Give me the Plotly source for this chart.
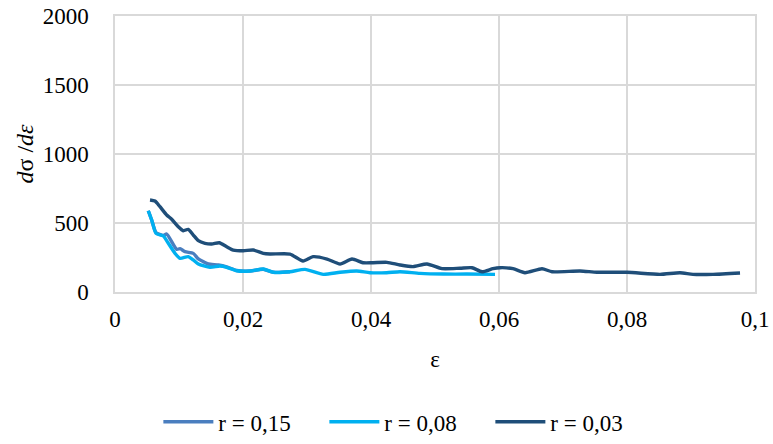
import plotly.graph_objects as go

# Strain values (ε) and tangent modulus dσ/dε for each ratio r
eps_r015 = [0.0052, 0.00573, 0.00641, 0.00755, 0.00808, 0.00964, 0.01016, 0.01094,
            0.01223, 0.01302, 0.01380, 0.01458, 0.01615, 0.01745, 0.01902, 0.02109,
            0.02317, 0.02473, 0.02734]
mod_r015 = [589, 522, 430, 410, 420, 309, 314, 292,
            280, 240, 220, 203, 196, 182, 156, 152,
            165, 143, 147]

eps_r008 = [0.0052, 0.00573, 0.00641, 0.00755, 0.00833, 0.00938, 0.01016, 0.01145,
            0.01223, 0.01302, 0.01484, 0.01641, 0.01745, 0.01902, 0.02109, 0.02317,
            0.02473, 0.02734, 0.02969, 0.03255, 0.03516, 0.03777, 0.03984, 0.04245,
            0.04453, 0.04766, 0.0513, 0.05495, 0.05938]
mod_r008 = [589, 522, 425, 406, 353, 280, 244, 256,
            232, 203, 179, 188, 179, 154, 152, 167,
            143, 147, 164, 128, 143, 152, 140, 140,
            147, 135, 130, 130, 128]

eps_r003 = [0.00547, 0.00625, 0.00703, 0.00808, 0.00886, 0.00989, 0.01067, 0.01145,
            0.01223, 0.01302, 0.01406, 0.01511, 0.0163, 0.01745, 0.01848, 0.02005,
            0.02161, 0.02317, 0.02422, 0.02734, 0.02938, 0.03094, 0.03313, 0.03516,
            0.03703, 0.03875, 0.04031, 0.0425, 0.04453, 0.04656, 0.04875, 0.05109,
            0.05391, 0.05578, 0.05734, 0.05906, 0.06016, 0.06219, 0.06406, 0.06672,
            0.06828, 0.07266, 0.07531, 0.08, 0.08516, 0.08828, 0.09031, 0.09344,
            0.09766]
mod_r003 = [667, 659, 618, 558, 527, 473, 444, 454,
            413, 372, 353, 348, 357, 328, 304, 299,
            304, 280, 275, 275, 225, 256, 239, 203,
            239, 212, 212, 215, 196, 184, 203, 169,
            172, 176, 147, 169, 176, 169, 140, 169,
            147, 152, 143, 143, 128, 140, 128, 128,
            138]

series = [
    ("r = 0,15", eps_r015, mod_r015, "#4a7ebf"),
    ("r = 0,08", eps_r008, mod_r008, "#00b0f0"),
    ("r = 0,03", eps_r003, mod_r003, "#1f4e79"),
]

x_ticks = [0, 0.02, 0.04, 0.06, 0.08, 0.1]
x_tick_text = ["0", "0,02", "0,04", "0,06", "0,08", "0,1"]
y_ticks = [0, 500, 1000, 1500, 2000]

fig = go.Figure()
for name, xs, ys, color in series:
    fig.add_trace(go.Scatter(
        x=xs, y=ys, name=name, mode="lines",
        line=dict(color=color, width=3.4, shape="spline", smoothing=0.6),
    ))

font_family = "Liberation Serif, serif"
grid = "#d9d9d9"

fig.update_layout(
    width=773, height=444,
    margin=dict(l=115, r=18, t=16, b=152, autoexpand=False),
    paper_bgcolor="white", plot_bgcolor="white",
    font=dict(family=font_family, size=23, color="black"),
    showlegend=True,
    legend=dict(orientation="h", xref="container", x=0.527, xanchor="center",
                yref="container", y=0.05, yanchor="middle",
                font=dict(family=font_family, size=23), itemwidth=50,
                entrywidth=101),
    xaxis=dict(
        range=[0, 0.1], tickvals=x_ticks, ticktext=x_tick_text,
        showgrid=True, gridcolor=grid, gridwidth=1.5,
        showline=True, linecolor=grid, linewidth=1.5, mirror=True,
        zeroline=False, ticks="", ticklabelstandoff=6,
        title=dict(text="ε", font=dict(family=font_family, size=23), standoff=20),
    ),
    yaxis=dict(
        range=[0, 2000], tickvals=y_ticks,
        showgrid=True, gridcolor=grid, gridwidth=1.5,
        showline=True, linecolor=grid, linewidth=1.5, mirror=True,
        zeroline=False, ticks="", ticklabelstandoff=20,
        title=dict(text="<i>d</i>σ /<i>dε</i>", font=dict(family=font_family, size=24),
                   standoff=2),
    ),
)

fig.write_html("out.html")
